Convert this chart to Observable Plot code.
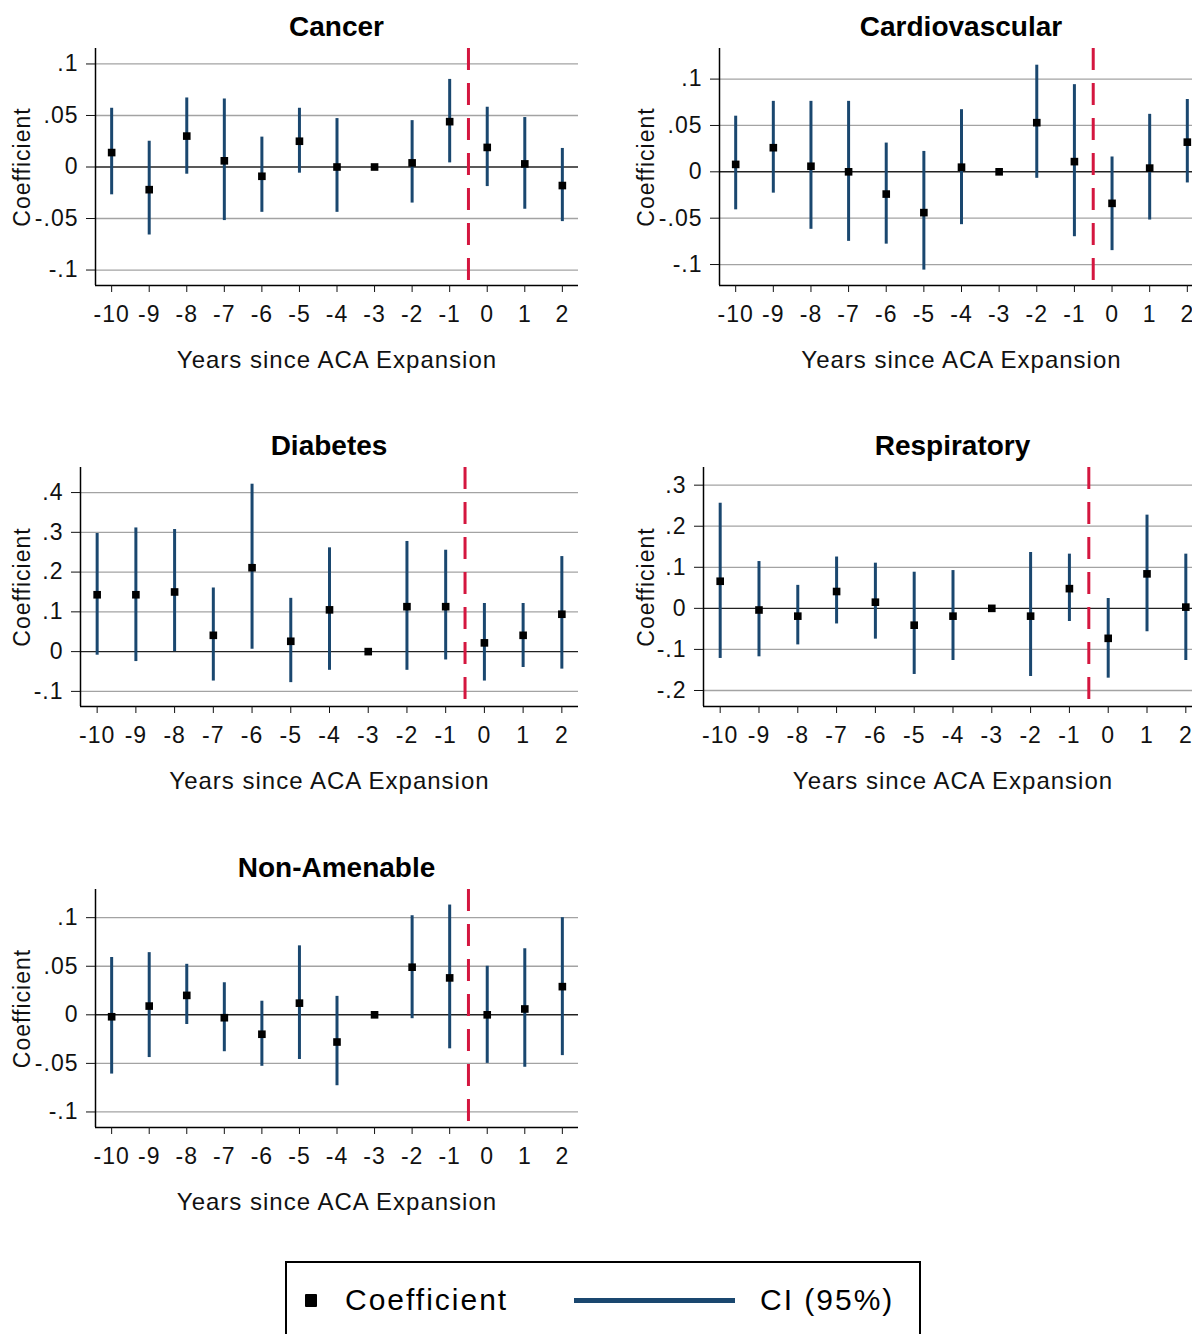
<!DOCTYPE html>
<html>
<head>
<meta charset="utf-8">
<script src="https://cdn.jsdelivr.net/npm/d3@7"></script>
<script src="https://cdn.jsdelivr.net/npm/@observablehq/plot@0.6"></script>
<style>
  body { margin: 0; background: #fff; overflow: hidden; }
  #page { position: relative; width: 1192px; height: 1334px; overflow: hidden; background: #fff;
          font-family: "Liberation Sans", Arial, sans-serif; }
  .panel { position: absolute; }
  .title { position: absolute; text-align: center; font-size: 28px; font-weight: bold;
           line-height: 28px; color: #000; white-space: nowrap; }
  .legend { position: absolute; left: 285px; top: 1261px; width: 636px; height: 120px;
            border: 2px solid #000; box-sizing: border-box; }
  .legend span { position: absolute; }
  .legend .txt { font-size: 30px; line-height: 30px; letter-spacing: 2px; color: #000; white-space: nowrap; }
</style>
</head>
<body>
<div id="page"></div>
<script>
// Event-study estimates by cause of death: years relative to ACA expansion
const years = [-10, -9, -8, -7, -6, -5, -4, -3, -2, -1, 0, 1, 2];

const cancerCoef = [0.014, -0.022, 0.030, 0.006, -0.009, 0.025, 0.000, 0, 0.004, 0.044, 0.019, 0.003, -0.018];
const cancerLo   = [-0.027, -0.066, -0.007, -0.052, -0.044, -0.006, -0.044, null, -0.035, 0.004, -0.019, -0.041, -0.053];
const cancerHi   = [0.057, 0.025, 0.067, 0.066, 0.029, 0.057, 0.047, null, 0.045, 0.085, 0.058, 0.048, 0.018];

const cardioCoef = [0.008, 0.026, 0.006, 0.000, -0.024, -0.044, 0.005, 0, 0.053, 0.011, -0.034, 0.004, 0.032];
const cardioLo   = [-0.041, -0.023, -0.062, -0.075, -0.078, -0.106, -0.057, null, -0.007, -0.070, -0.085, -0.052, -0.012];
const cardioHi   = [0.060, 0.076, 0.076, 0.076, 0.031, 0.022, 0.067, null, 0.115, 0.094, 0.016, 0.062, 0.078];

const diabetesCoef = [0.143, 0.143, 0.150, 0.041, 0.211, 0.026, 0.105, 0, 0.113, 0.113, 0.022, 0.041, 0.094];
const diabetesLo   = [-0.009, -0.025, 0.000, -0.074, 0.006, -0.078, -0.047, null, -0.047, -0.021, -0.074, -0.040, -0.044];
const diabetesHi   = [0.297, 0.311, 0.307, 0.160, 0.421, 0.134, 0.261, null, 0.277, 0.255, 0.121, 0.121, 0.239];

const respCoef = [0.066, -0.004, -0.019, 0.041, 0.015, -0.041, -0.019, 0, -0.019, 0.048, -0.073, 0.084, 0.003];
const respLo   = [-0.122, -0.118, -0.089, -0.038, -0.075, -0.161, -0.127, null, -0.166, -0.032, -0.170, -0.057, -0.127];
const respHi   = [0.256, 0.114, 0.056, 0.125, 0.110, 0.088, 0.092, null, 0.136, 0.132, 0.024, 0.227, 0.132];

const nonAmenCoef = [-0.002, 0.009, 0.020, -0.003, -0.020, 0.012, -0.028, 0, 0.049, 0.038, 0.000, 0.006, 0.029];
const nonAmenLo   = [-0.061, -0.044, -0.010, -0.038, -0.053, -0.046, -0.073, null, -0.004, -0.035, -0.050, -0.054, -0.042];
const nonAmenHi   = [0.059, 0.064, 0.052, 0.033, 0.014, 0.071, 0.019, null, 0.102, 0.113, 0.050, 0.068, 0.100];

const ticksSmall = [-0.1, -0.05, 0, 0.05, 0.1];
const ticksDiabetes = [-0.1, 0, 0.1, 0.2, 0.3, 0.4];
const ticksResp = [-0.2, -0.1, 0, 0.1, 0.2, 0.3];

const expansionLine = -0.5;
const xLabel = "Years since ACA Expansion";
const yLabel = "Coefficient";

// Colours
const ciColor = "#1a476f";
const refColor = "#d4163f";
const gridColor = "#a3a3a3";

// Panel frames on the page: [left, top, right, bottom] of the plotting area,
// plus the page x of the rotated y-axis title
const panels = [
  {title: "Cancer",         coef: cancerCoef,   lo: cancerLo,   hi: cancerHi,   yDomain: [-0.115, 0.115],  yTicks: ticksSmall,    frame: [95, 48, 578, 285],   yTitleX: 22},
  {title: "Cardiovascular", coef: cardioCoef,   lo: cardioLo,   hi: cardioHi,   yDomain: [-0.1226, 0.133], yTicks: ticksSmall,    frame: [719, 48, 1203, 285], yTitleX: 646},
  {title: "Diabetes",       coef: diabetesCoef, lo: diabetesLo, hi: diabetesHi, yDomain: [-0.138, 0.463],  yTicks: ticksDiabetes, frame: [80, 467, 578, 706],  yTitleX: 22},
  {title: "Respiratory",    coef: respCoef,     lo: respLo,     hi: respHi,     yDomain: [-0.239, 0.343],  yTicks: ticksResp,     frame: [703, 467, 1202, 706], yTitleX: 646},
  {title: "Non-Amenable",   coef: nonAmenCoef,  lo: nonAmenLo,  hi: nonAmenHi,  yDomain: [-0.116, 0.129],  yTicks: ticksSmall,    frame: [95, 889, 578, 1127], yTitleX: 22}
];

const xDomain = [-10.43, 2.43];
const fmtY = d => d === 0 ? "0" : String(d).replace("0.", ".");
const page = document.getElementById("page");

for (const p of panels) {
  const rows = years.map((year, i) => ({year, coef: p.coef[i], lo: p.lo[i], hi: p.hi[i]}));
  const ci = rows.filter(d => d.lo != null && d.hi != null);
  const [fx, fy, fx2, fy2] = p.frame;
  const mL = fx > 600 ? 95 : fx, mT = 10, mR = 10, mB = 95;
  const width = mL + (fx2 - fx) + mR;
  const height = mT + (fy2 - fy) + mB;

  const chart = Plot.plot({
    width, height,
    marginLeft: mL, marginTop: mT, marginRight: mR, marginBottom: mB,
    style: {fontFamily: "'Liberation Sans', Arial, sans-serif", fontSize: "23px", letterSpacing: "1px",
            color: "#111", background: "transparent", maxWidth: "none", overflow: "visible"},
    x: {domain: xDomain},
    y: {domain: p.yDomain},
    marks: [
      Plot.ruleY(p.yTicks.filter(t => t !== 0), {stroke: gridColor, strokeWidth: 1.3}),
      Plot.ruleY([0], {stroke: "#222", strokeWidth: 1.4}),
      Plot.ruleX([expansionLine], {stroke: refColor, strokeWidth: 3, strokeDasharray: "22,13"}),
      Plot.ruleX(ci, {x: "year", y1: "lo", y2: "hi", stroke: ciColor, strokeWidth: 3}),
      Plot.dot(rows, {x: "year", y: "coef", symbol: "square", r: 4.3, fill: "#000"}),
      Plot.ruleX([xDomain[0]], {stroke: "#000", strokeWidth: 1.5}),
      Plot.ruleY([p.yDomain[0]], {stroke: "#000", strokeWidth: 1.5}),
      Plot.axisX({ticks: years, tickSize: 7, tickPadding: 13, tickFormat: d => String(d), label: null}),
      Plot.axisY({ticks: p.yTicks, tickSize: 9, tickPadding: 8, tickFormat: fmtY, label: null}),
      Plot.text([xLabel], {frameAnchor: "bottom", lineAnchor: "middle", text: d => d, dy: 75, fontSize: 24}),
      Plot.text([yLabel], {frameAnchor: "left", textAnchor: "middle", lineAnchor: "middle",
                           text: d => d, rotate: -90, dx: p.yTitleX - fx})
    ]
  });

  const wrap = document.createElement("div");
  wrap.className = "panel";
  wrap.style.left = (fx - mL) + "px";
  wrap.style.top = (fy - mT) + "px";
  wrap.style.width = width + "px";
  wrap.style.height = height + "px";
  wrap.appendChild(chart);
  page.appendChild(wrap);

  const t = document.createElement("div");
  t.className = "title";
  t.textContent = p.title;
  t.style.left = fx + "px";
  t.style.width = (fx2 - fx) + "px";
  t.style.top = (fy - 35) + "px";
  page.appendChild(t);
}

// Legend box
const legend = document.createElement("div");
legend.className = "legend";
legend.innerHTML =
  `<span style="left:18px;top:31px;width:12px;height:13px;background:#000;border-radius:1px"></span>` +
  `<span class="txt" style="left:58px;top:22px">Coefficient</span>` +
  `<span style="left:287px;top:35px;width:161px;height:5px;background:${ciColor}"></span>` +
  `<span class="txt" style="left:473px;top:22px">CI (95%)</span>`;
page.appendChild(legend);
</script>
</body>
</html>
